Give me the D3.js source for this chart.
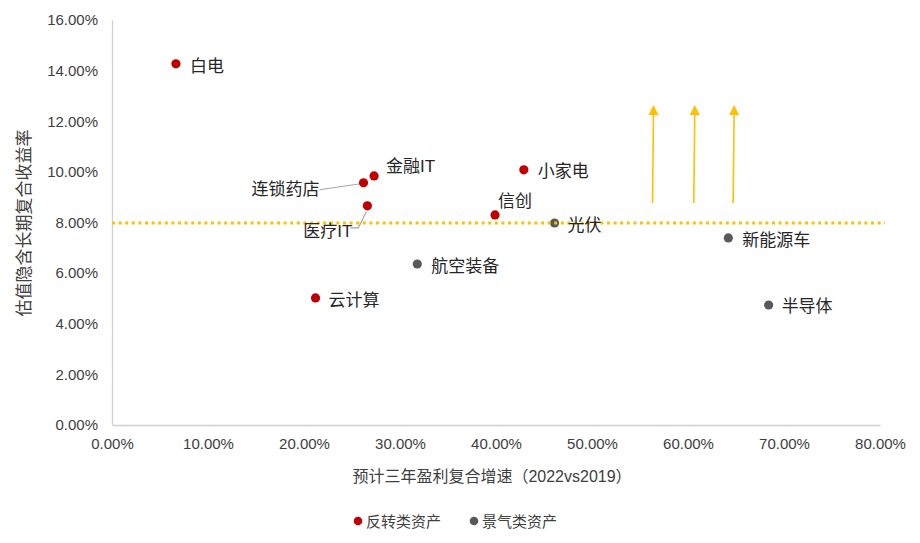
<!DOCTYPE html>
<html><head><meta charset="utf-8">
<script src="https://cdn.jsdelivr.net/npm/d3@7"></script>
<style>body{margin:0;background:#fff}text{font-family:"Liberation Sans","Noto Sans CJK SC",sans-serif}</style>
</head><body><svg id="c" width="920" height="543"></svg>
<script>
const names = ["白电","金融IT","连锁药店","医疗IT","云计算","信创","小家电","光伏","航空装备","新能源车","半导体"];
const growth = [6.66,27.3,26.2,26.6,21.2,39.9,42.9,46.1,31.8,64.2,68.4];
const returns = [14.27,9.84,9.57,8.66,5.02,8.3,10.08,7.98,6.36,7.39,4.74];
const groups = ["反转","反转","反转","反转","反转","反转","反转","景气","景气","景气","景气"];
const xTicks = [0,10,20,30,40,50,60,70,80];
const yTicks = [0,2,4,6,8,10,12,14,16];
const refLine = 7.98;
const arrowX = [56.3,60.6,64.7];
const arrowFrom = 8.77, arrowTo = 12.6;
const legendNames = ["反转类资产","景气类资产"];

const colors = {"反转":"#C00000","景气":"#595959"};
const labelPos = {"白电":[14,8],"金融IT":[12,-4],"连锁药店":[-112,12],"医疗IT":[-64,31],"云计算":[13,8],"信创":[3,-8],"小家电":[14,7],"光伏":[13,8],"航空装备":[14,8],"新能源车":[14,8],"半导体":[13,7]};

const svg = d3.select("#c");
const x = d3.scaleLinear().domain([0,80]).range([112,880]);
const y = d3.scaleLinear().domain([0,16]).range([425,20]);

const fmt = d => d.toFixed(2)+"%";
const gx = svg.append("g").attr("transform","translate(0,425)")
  .call(d3.axisBottom(x).tickValues(xTicks).tickFormat(fmt).tickSize(0).tickPadding(13));
const gy = svg.append("g").attr("transform","translate(112,0)")
  .call(d3.axisLeft(y).tickValues(yTicks).tickFormat(fmt).tickSize(0).tickPadding(14));
[gx,gy].forEach(g=>{
  g.select(".domain").attr("stroke","#d0d0d0").attr("stroke-width",1.3);
  g.selectAll("text").attr("font-size",15).attr("fill","#404040").attr("font-family","Liberation Sans, sans-serif");
});

svg.append("text").attr("x",492).attr("y",482).attr("text-anchor","middle")
  .attr("font-size",16).attr("fill","#404040").attr("font-family","Noto Sans CJK SC, Liberation Sans, sans-serif").text("预计三年盈利复合增速（2022vs2019）");
svg.append("text").attr("transform","translate(30,223) rotate(-90)").attr("text-anchor","middle")
  .attr("font-size",17).attr("fill","#404040").attr("font-family","Noto Sans CJK SC, sans-serif").text("估值隐含长期复合收益率");

const data = names.map((n,i)=>({n,gx:growth[i],r:returns[i],g:groups[i]}));

const pt = n => { const d = data.find(e=>e.n===n); return [x(d.gx), y(d.r)]; };
const [lx,ly] = pt("连锁药店");
svg.append("path").attr("d",`M${lx-44},${ly+7}L${lx-3},${ly+1}`).attr("stroke","#a6a6a6").attr("fill","none").attr("stroke-width",1.2);
const [mx,my] = pt("医疗IT");
svg.append("path").attr("d",`M${mx-17},${my+22}L${mx-9},${my+22}L${mx-1},${my+6}`).attr("stroke","#a6a6a6").attr("fill","none").attr("stroke-width",1.2);

svg.selectAll("circle.pt").data(data).join("circle").attr("class","pt")
  .attr("cx",d=>x(d.gx)).attr("cy",d=>y(d.r)).attr("r",4.6).attr("fill",d=>colors[d.g]);

svg.append("line").attr("x1",x(0)).attr("x2",885).attr("y1",y(refLine)).attr("y2",y(refLine))
  .attr("stroke","#FFC000").attr("stroke-width",3).attr("stroke-dasharray","3,3.6");

svg.selectAll("text.lab").data(data).join("text").attr("class","lab")
  .attr("x",d=>x(d.gx)+labelPos[d.n][0]).attr("y",d=>y(d.r)+labelPos[d.n][1])
  .attr("font-size",17).attr("fill","#262626").attr("font-family","Noto Sans CJK SC, Liberation Sans, sans-serif").text(d=>d.n);

arrowX.forEach((a,i)=>{
  svg.append("line").attr("x1",x(a)).attr("x2",x(a)+1).attr("y1",y(arrowFrom)).attr("y2",y(arrowTo)+8)
    .attr("stroke","#FFC000").attr("stroke-width",1.6);
  svg.append("path").attr("d",`M${x(a)+1-5},${y(arrowTo)+9}L${x(a)+1},${y(arrowTo)-1}L${x(a)+1+5},${y(arrowTo)+9}Z`).attr("fill","#FFC000");
});

const lg = svg.append("g");
const lgx = [358,474];
legendNames.forEach((t,i)=>{
  lg.append("circle").attr("cx",lgx[i]).attr("cy",521).attr("r",4.3).attr("fill",colors[["反转","景气"][i]]);
  lg.append("text").attr("x",lgx[i]+8).attr("y",527).attr("font-size",15).attr("fill","#404040")
    .attr("font-family","Noto Sans CJK SC, sans-serif").text(t);
});
</script></body></html>
